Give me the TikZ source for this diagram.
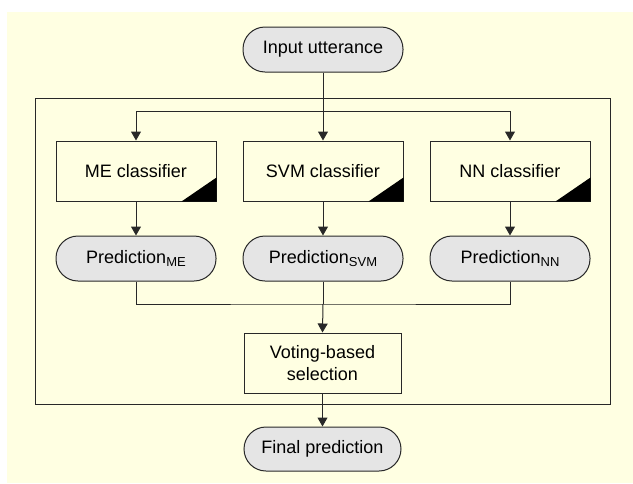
\documentclass[tikz,border=0pt]{standalone}
\usepackage{fontspec}
\setmainfont{Liberation Sans}
\usetikzlibrary{arrows.meta}
\definecolor{bgyellow}{RGB}{255,255,226}
\definecolor{termgray}{RGB}{229,229,229}
\definecolor{linecol}{RGB}{40,40,40}
\tikzset{
  terminal/.style={draw=linecol, line width=1pt, fill=termgray, rounded corners=22pt,
    minimum width=160pt, minimum height=45pt, inner sep=0pt, font=\fontsize{18}{21}\selectfont},
  procbox/.style={draw=linecol, line width=1pt, minimum width=160pt, minimum height=60pt,
    inner sep=0pt, font=\fontsize{18}{21}\selectfont, align=center},
  conn/.style={draw=linecol, line width=1pt},
  arr/.style={conn, -{Triangle[length=9pt,width=10pt]}},
  corner/.style={fill=black},
}
\newcommand{\subtxt}[1]{\raisebox{-3.5pt}{\fontsize{13}{13}\selectfont #1}}
\begin{document}
\begin{tikzpicture}[x=1pt,y=-1pt]
\useasboundingbox (0,0) rectangle (633,483);
\fill[bgyellow] (7,12) rectangle (633,483);
\node[draw=linecol, line width=1pt, minimum width=575pt, minimum height=306pt, inner sep=0pt] (frame) at (322.5,251) {};
\node[terminal] (in) at (323,49.5) {Input utterance};
\node[procbox] (me) at (136,171) {ME classifier};
\node[procbox] (svm) at (323,171) {SVM classifier};
\node[procbox] (nn) at (510,171) {NN classifier};
\foreach \b in {me,svm,nn}{
  \fill[corner] (\b.south east) -- ++(-35,0) -- ++(35,-24) -- cycle;
}
\node[terminal] (pme) at (136,258.5) {Prediction\subtxt{ME}};
\node[terminal] (psvm) at (323,258.5) {Prediction\subtxt{SVM}};
\node[terminal] (pnn) at (510,258.5) {Prediction\subtxt{NN}};
\node[procbox, minimum width=157pt, font=\fontsize{18}{22}\selectfont] (vote) at (322.5,363) {Voting-based\\selection};
\node[terminal, minimum width=157pt, minimum height=44pt] (final) at (322.5,449) {Final prediction};
\coordinate (split) at (323,111);
\coordinate (join) at (323,304);
\draw[conn] (in.south) -- (split);
\draw[conn] (me.north |- split) -- (nn.north |- split);
\draw[arr] (me.north |- split) -- (me.north);
\draw[arr] (split) -- (svm.north);
\draw[arr] (nn.north |- split) -- (nn.north);
\draw[arr] (me) -- (pme);
\draw[arr] (svm) -- (psvm);
\draw[arr] (nn) -- (pnn);
\draw[conn] (pme.south) |- (join) -| (pnn.south);
\draw[conn] (psvm.south) -- (join);
\draw[arr] (join) -- (vote.north);
\draw[arr] (vote.south) -- (final.north);
\end{tikzpicture}
\end{document}
